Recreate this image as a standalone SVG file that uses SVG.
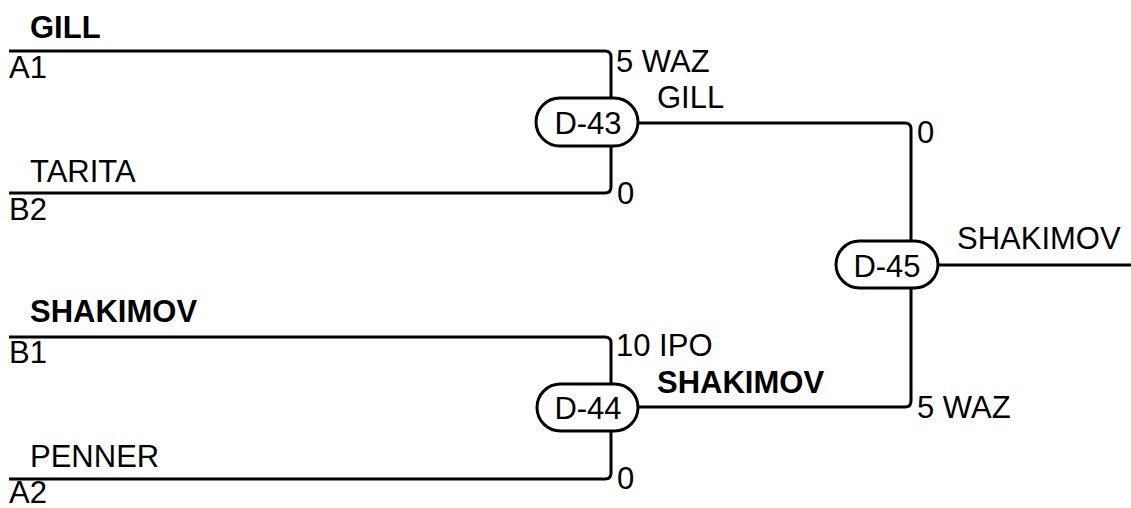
<svg xmlns="http://www.w3.org/2000/svg" width="1131" height="508" viewBox="0 0 1131 508">
<style>
text{font-family:"Liberation Sans",Arial,sans-serif;font-size:31px;fill:#000}
.b{font-weight:bold}
.ln{fill:none;stroke:#000;stroke-width:3}
.pill{fill:#fff;stroke:#000;stroke-width:3}
.c{text-anchor:middle}
</style>
<rect width="1131" height="508" fill="#fff"/>
<g id="connectors">
<path class="ln" d="M9 51 H605 Q611 51 611 57 V98"/>
<path class="ln" d="M9 193 H605 Q611 193 611 187 V146"/>
<path class="ln" d="M9 337 H605 Q611 337 611 343 V385"/>
<path class="ln" d="M9 479 H605 Q611 479 611 473 V430"/>
<path class="ln" d="M634 123 H905 Q911 123 911 129 V242"/>
<path class="ln" d="M634 407 H905 Q911 407 911 401 V288"/>
<path class="ln" d="M934 265 H1131"/>
</g>
<g id="A1"><text class="b" x="30" y="38">GILL</text><text x="9" y="78">A1</text></g>
<g id="B2"><text x="30" y="182">TARITA</text><text x="9" y="220">B2</text></g>
<g id="B1"><text class="b" x="30" y="322">SHAKIMOV</text><text x="9" y="363">B1</text></g>
<g id="A2"><text x="30" y="467">PENNER</text><text x="9" y="503">A2</text></g>
<g id="D-43">
<rect class="pill" x="536" y="98" width="102" height="48" rx="24"/>
<text class="c" x="588" y="134">D-43</text>
<text x="616" y="72">5 WAZ</text>
<text x="617" y="204">0</text>
<text x="657" y="108">GILL</text>
</g>
<g id="D-44">
<rect class="pill" x="537" y="384" width="101" height="47" rx="23.5"/>
<text class="c" x="588" y="419">D-44</text>
<text x="616" y="356">10 IPO</text>
<text x="617" y="489">0</text>
<text class="b" x="657" y="393">SHAKIMOV</text>
</g>
<g id="D-45">
<rect class="pill" x="836" y="241" width="102" height="47" rx="23.5"/>
<text class="c" x="887" y="277">D-45</text>
<text x="917" y="143">0</text>
<text x="917" y="418">5 WAZ</text>
<text x="957" y="249">SHAKIMOV</text>
</g>
</svg>
